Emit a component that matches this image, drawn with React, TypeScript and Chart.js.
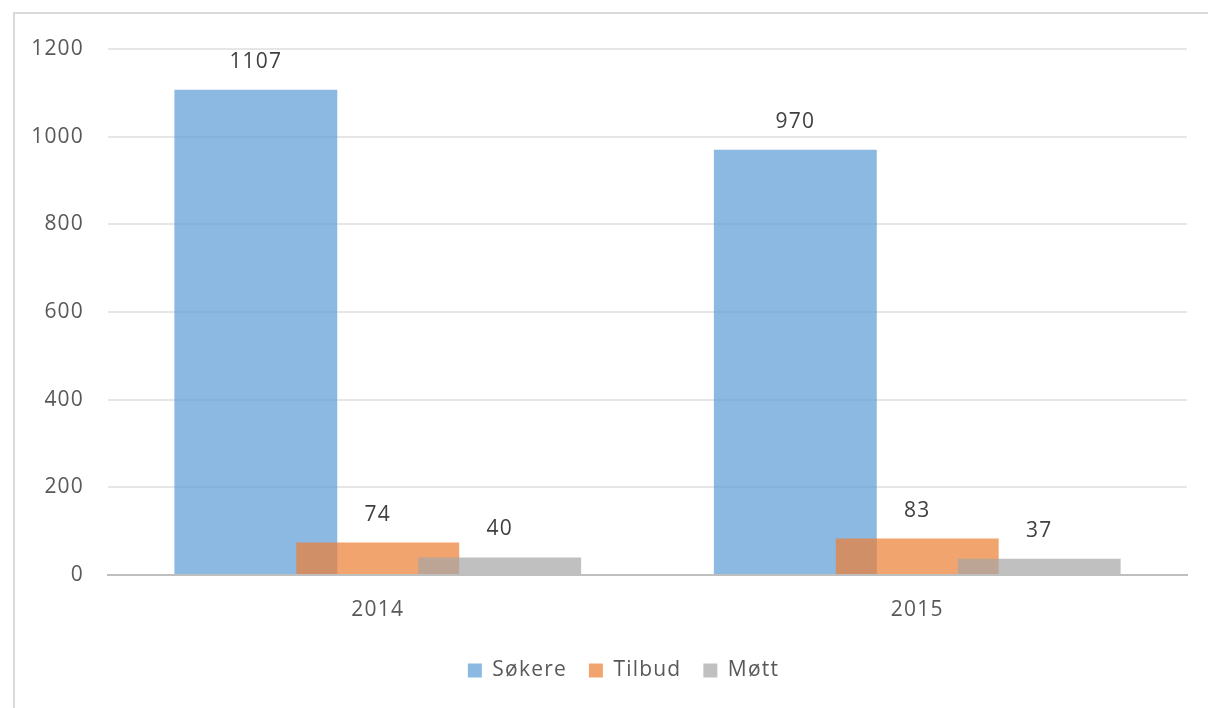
import React, { useEffect, useRef } from "react";
import { Chart, registerables } from "chart.js";

Chart.register(...registerables);

const categories = ["2014", "2015"];
const sokere = [1107, 970];
const tilbud = [74, 83];
const mott = [40, 37];
const seriesNames = ["Søkere", "Tilbud", "Møtt"];
const yTicks = [0, 200, 400, 600, 800, 1000, 1200];

const FONT = "'Open Sans', 'DejaVu Sans', sans-serif";
const SPACING = "1.2px";
const LEGEND_SHIFT = 60;

const spacingPlugin = {
  id: "spacing",
  beforeUpdate(chart: any) {
    chart.ctx.letterSpacing = SPACING;
  },
  afterLayout(chart: any) {
    if (chart.legend) chart.legend.left += LEGEND_SHIFT;
  },
  beforeDraw(chart: any) {
    chart.ctx.letterSpacing = SPACING;
  },
};

const forwardDraw = {
  id: "forwardDraw",
  beforeDatasetsDraw(chart: any) {
    const ctx = chart.ctx;
    const a = chart.chartArea;
    ctx.save();
    ctx.beginPath();
    ctx.rect(a.left, a.top - 2, a.right - a.left, a.bottom - a.top + 2);
    ctx.clip();
    for (let i = 0; i < chart.data.datasets.length; i++) {
      const meta = chart.getDatasetMeta(i);
      if (meta.visible !== false) meta.controller.draw();
    }
    ctx.restore();
    return false;
  },
};

const valueLabels = {
  id: "valueLabels",
  afterDraw(chart: any) {
    const ctx = chart.ctx;
    ctx.save();
    ctx.letterSpacing = SPACING;
    ctx.font = `21px ${FONT}`;
    ctx.fillStyle = "#404040";
    ctx.textAlign = "center";
    ctx.textBaseline = "middle";
    chart.data.datasets.forEach((ds: any, i: number) => {
      const meta = chart.getDatasetMeta(i);
      meta.data.forEach((bar: any, j: number) => {
        ctx.fillText(String(ds.data[j]), bar.x, bar.y - 28);
      });
    });
    ctx.restore();
  },
};

export default function App() {
  const ref = useRef<HTMLCanvasElement>(null);
  useEffect(() => {
    if (!ref.current) return;
    const chart = new Chart(ref.current, {
      type: "bar",
      data: {
        labels: categories,
        datasets: [
          { label: seriesNames[0], data: sokere, backgroundColor: "rgba(91,155,213,0.7)" },
          { label: seriesNames[1], data: tilbud, backgroundColor: "rgba(237,125,49,0.7)" },
          { label: seriesNames[2], data: mott, backgroundColor: "rgba(165,165,165,0.7)" },
        ],
      },
      plugins: [spacingPlugin, forwardDraw, valueLabels],
      options: {
        responsive: false,
        animation: false,
        devicePixelRatio: 1,
        datasets: { bar: { categoryPercentage: 0.678, barPercentage: 1.336 } },
        layout: { padding: { left: 0, right: 21, top: 49, bottom: 17 } },
        plugins: {
          tooltip: { enabled: false },
          legend: {
            position: "bottom",
            labels: {
              boxWidth: 14,
              boxHeight: 14,
              padding: 22,
              color: "#595959",
              font: { family: FONT, size: 21 },
            },
          },
        },
        scales: {
          x: {
            grid: { display: false },
            border: { display: true, color: "#BFBFBF", width: 2 },
            ticks: { color: "#595959", font: { family: FONT, size: 21 }, padding: 14 },
            afterFit: (s: any) => { s.height = 63; },
          },
          y: {
            min: 0,
            max: 1200,
            afterBuildTicks: (s: any) => { s.ticks = yTicks.map((v) => ({ value: v })); },
            grid: {
              drawTicks: false,
              color: (c: any) => (c.tick && c.tick.value === 0 ? "rgba(0,0,0,0)" : "#E6E6E6"),
              lineWidth: 2,
            },
            border: { display: false },
            ticks: {
              color: "#595959",
              font: { family: FONT, size: 21 },
              padding: 24,
              callback: (v: any) => String(v),
            },
            afterFit: (s: any) => { s.width = 108; },
          },
        },
      },
    });
    return () => chart.destroy();
  }, []);
  return (
    <div style={{ position: "fixed", left: 0, top: 0, width: 1208, height: 708, overflow: "hidden", background: "#fff" }}>
      <div style={{ position: "absolute", left: 13, top: 12, width: 1400, height: 900, borderTop: "2px solid #D9D9D9", borderLeft: "2px solid #D9D9D9" }} />
      <canvas ref={ref} width={1208} height={708} style={{ position: "absolute", left: 0, top: 0 }} />
    </div>
  );
}
